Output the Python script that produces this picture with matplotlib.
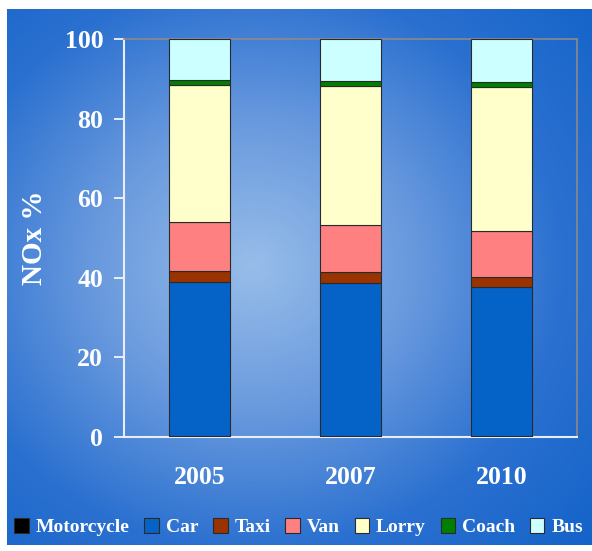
import numpy as np
import matplotlib.pyplot as plt
from matplotlib.colors import LinearSegmentedColormap

years = ['2005', '2007', '2010']
categories = ['Motorcycle', 'Car', 'Taxi', 'Van', 'Lorry', 'Coach', 'Bus']
colors = ['#000000', '#0563c8', '#993300', '#ff8080', '#ffffcc', '#008000', '#ccffff']

# share of NOx (%) per vehicle type, stacked bottom to top
motorcycle = [0.3, 0.3, 0.3]
car = [38.6, 38.4, 37.5]
taxi = [2.9, 2.8, 2.3]
van = [12.3, 11.8, 11.7]
lorry = [34.3, 34.8, 36.1]
coach = [1.3, 1.4, 1.4]
bus = [10.3, 10.5, 10.7]
series = [motorcycle, car, taxi, van, lorry, coach, bus]

plt.rcParams['font.family'] = ['Liberation Serif', 'DejaVu Serif']
plt.rcParams['font.weight'] = 'bold'

fig = plt.figure(figsize=(5.92, 5.51), dpi=100)

# blue radial gradient background panel
bg = fig.add_axes([7 / 592, 6 / 551, 585 / 592, 536 / 551])
bg.set_axis_off()
yy, xx = np.mgrid[0:1:300j, 0:1:300j]
r = np.sqrt(((xx - 0.42) / 0.8) ** 2 + ((yy - 0.48) / 0.8) ** 2)
cmap = LinearSegmentedColormap.from_list('bgblue', ['#97bde9', '#6a9ade', '#2a70d0', '#1262c8'])
bg.imshow(np.clip(r, 0, 1), cmap=cmap, aspect='auto', extent=[0, 1, 0, 1], vmin=0, vmax=1)

ax = fig.add_axes([124 / 592, 114 / 551, 453 / 592, 398 / 551])
ax.patch.set_alpha(0)

x = np.arange(len(years))
bottom = np.zeros(len(years))
for name, vals, c in zip(categories, series, colors):
    ax.bar(x, vals, 0.4, bottom=bottom, color=c, edgecolor='#2a2a2a', linewidth=0.8, label=name, zorder=3)
    bottom += np.array(vals)

ax.set_xlim(-0.5, 2.5)
ax.set_ylim(0, 100)
ax.set_yticks([0, 20, 40, 60, 80, 100])
ax.set_xticks(x)
ax.set_xticklabels(years)
ax.tick_params(axis='y', colors='white', labelsize=18.5, length=7, width=1.2, pad=8)
ax.tick_params(axis='x', colors='white', labelsize=18.5, length=0, pad=21)
for lab in ax.get_xticklabels() + ax.get_yticklabels():
    lab.set_fontweight('bold')

for s in ['left', 'bottom']:
    ax.spines[s].set_color('#e8eef8')
    ax.spines[s].set_linewidth(1.5)
for s in ['top', 'right']:
    ax.spines[s].set_color('#8a8a8a')
    ax.spines[s].set_linewidth(1.2)

ax.set_ylabel('NOx %', color='white', fontsize=21, fontweight='bold', labelpad=12)

leg = fig.legend(loc='center left', bbox_to_anchor=(0.008, 0.043), ncol=7, frameon=False,
                 fontsize=14, handlelength=0.75, handleheight=0.75, handletextpad=0.35,
                 columnspacing=0.76, borderpad=0)
for t in leg.get_texts():
    t.set_color('white')
    t.set_fontweight('bold')

fig.savefig('out.png', dpi=100)
